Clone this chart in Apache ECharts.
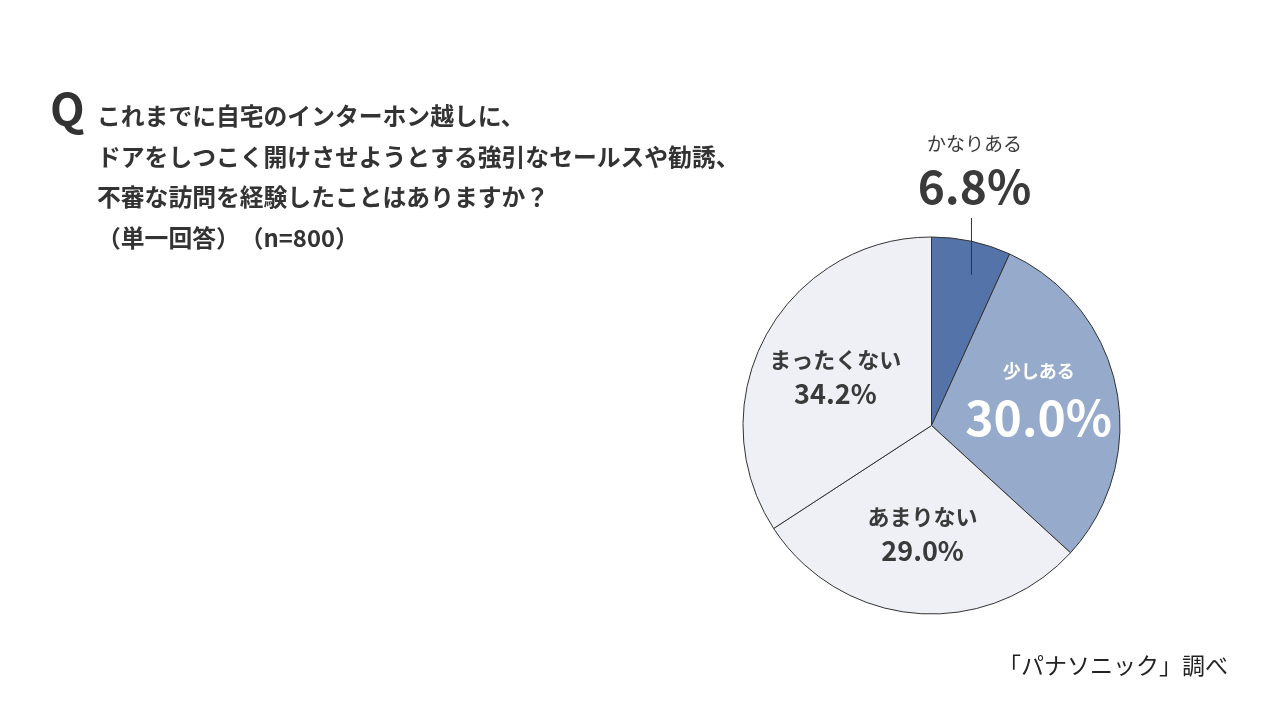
<!DOCTYPE html>
<html>
<head>
<meta charset="utf-8">
<script src="https://cdn.jsdelivr.net/npm/echarts@6/dist/echarts.min.js"></script>
<style>
html,body{margin:0;padding:0;background:#fff;}
#chart{width:1280px;height:720px;}
</style>
</head>
<body>
<div id="chart"></div>
<script>
const categories = ['かなりある', '少しある', 'あまりない', 'まったくない'];
const values = [6.8, 30.0, 29.0, 34.2];
const sliceColors = ['#5473A8', '#96ABCB', '#EEF0F6', '#EEF0F6'];
const questionLines = [
  'これまでに自宅のインターホン越しに、',
  'ドアをしつこく開けさせようとする強引なセールスや勧誘、',
  '不審な訪問を経験したことはありますか？',
  '（単一回答）　（n=800）'
];
const sourceText = '「パナソニック」調べ';

const FONT = '"Noto Sans CJK JP", "Noto Sans", sans-serif';
const CX = 931.5, CY = 425.5, R = 188.5;
const total = values.reduce((a, b) => a + b, 0);

function midAngle(i) {
  let cum = 0;
  for (let k = 0; k < i; k++) cum += values[k];
  return (cum + values[i] / 2) / total * Math.PI * 2;
}

const chart = echarts.init(document.getElementById('chart'));

const labelStyles = [
  { pos: 'outside', color: '#3a3a3a', a: 19, al: 28, aw: 'normal', b: 46, bl: 58, bw: 'bold', dy: 0 },
  { pos: 'inside', color: '#ffffff', a: 18, al: 26, aw: 'bold', b: 48, bl: 68, bw: 'bold', dy: 1 },
  { pos: 'inside', color: '#3a3a3a', a: 22, al: 30, aw: 'bold', b: 27, bl: 38, bw: 'bold', dy: 1 },
  { pos: 'inside', color: '#3a3a3a', a: 22, al: 30, aw: 'bold', b: 27, bl: 38, bw: 'bold', dy: 5 }
];

const sectorData = categories.map((name, i) => ({
  name: name,
  value: values[i],
  itemStyle: { color: sliceColors[i] }
}));

const labelData = categories.map((name, i) => {
  const s = labelStyles[i];
  return {
    name: name,
    value: values[i],
    label: {
      show: true,
      position: s.pos,
      formatter: (p) => '{a|' + p.name + '}\n{b|' + p.value.toFixed(1) + '%}',
      rich: {
        a: { fontFamily: FONT, fontSize: s.a, lineHeight: s.al, color: s.color, fontWeight: s.aw, align: 'center' },
        b: { fontFamily: FONT, fontSize: s.b, lineHeight: s.bl, color: s.color, fontWeight: s.bw, align: 'center' }
      }
    },
    labelLine: { show: i === 0, lineStyle: { color: '#333', width: 1 } }
  };
});

const option = {
  backgroundColor: '#ffffff',
  animation: false,
  graphic: [
    {
      type: 'text', left: 50, top: 86,
      style: { text: 'Q', font: 'bold 45px ' + FONT, fill: '#333333' }
    },
    ...questionLines.map((t, i) => ({
      type: 'text', left: 97, top: 104 + i * 40.7,
      style: { text: t, font: 'bold 23.8px ' + FONT, fill: '#333333' }
    })),
    {
      type: 'text', right: 52, top: 654,
      style: { text: sourceText, font: '23px ' + FONT, fill: '#222222' }
    }
  ],
  series: [
    {
      type: 'pie',
      z: 2,
      center: [CX, CY],
      radius: R,
      startAngle: 90,
      clockwise: true,
      silent: true,
      itemStyle: { borderColor: '#333333', borderWidth: 1 },
      emphasis: { disabled: true },
      label: { show: false },
      labelLine: { show: false },
      data: sectorData
    },
    {
      type: 'pie',
      z: 5,
      center: [CX, CY],
      radius: R,
      startAngle: 90,
      clockwise: true,
      silent: true,
      itemStyle: { color: 'rgba(0,0,0,0)', borderWidth: 0 },
      emphasis: { disabled: true },
      labelLine: { show: true },
      data: labelData,
      labelLayout: function (params) {
        const i = params.dataIndex;
        const a = midAngle(i);
        if (i === 0) {
          const xe = CX + R * Math.sin(a);
          return {
            x: xe + 3,
            y: CY - R - 64,
            align: 'center',
            verticalAlign: 'middle',
            labelLinePoints: [[xe, CY - 0.8 * R], [xe, CY - R - 10], [xe, CY - R - 19]]
          };
        }
        const rho = 0.58 * R;
        return {
          x: CX + rho * Math.sin(a),
          y: CY - rho * Math.cos(a) + labelStyles[i].dy,
          align: 'center',
          verticalAlign: 'middle'
        };
      }
    }
  ]
};

chart.setOption(option);
</script>
</body>
</html>
